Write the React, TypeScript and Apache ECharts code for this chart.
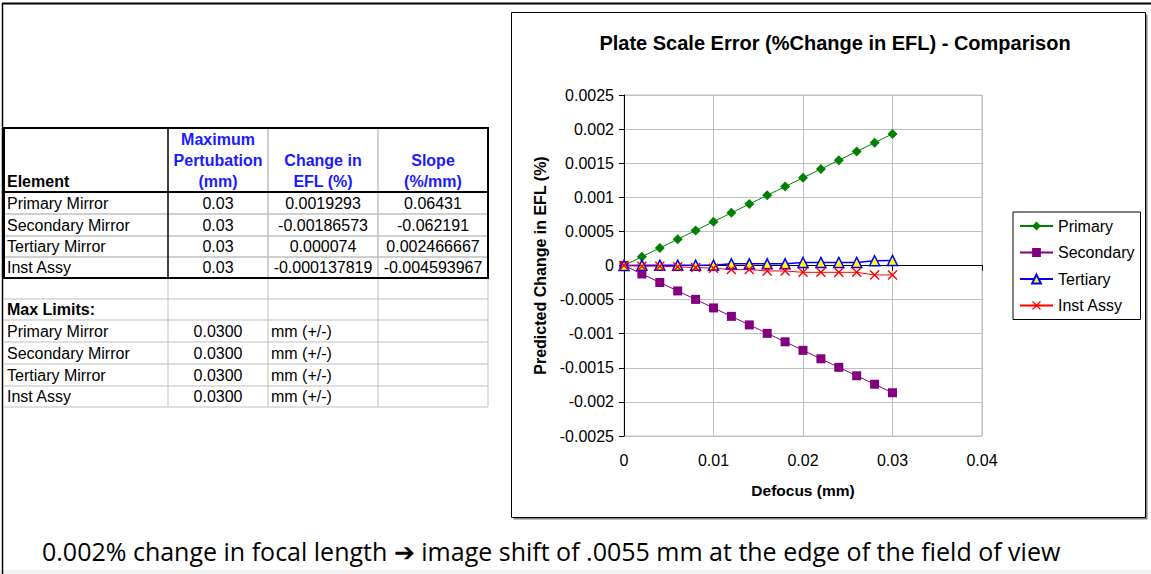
import React, { useEffect, useRef } from "react";
import * as echarts from "echarts";

// Defocus steps (mm)
const defocus = [0, 0.002, 0.004, 0.006, 0.008, 0.01, 0.012, 0.014, 0.016, 0.018, 0.02, 0.022, 0.024, 0.026, 0.028, 0.03];

// Predicted % change in EFL for each element
const primary = [0, 0.000129, 0.000257, 0.000386, 0.000514, 0.000643, 0.000772, 0.0009, 0.001029, 0.001157, 0.001286, 0.001415, 0.001543, 0.001672, 0.0018, 0.0019293];
const secondary = [0, -0.000124, -0.000249, -0.000373, -0.000497, -0.000622, -0.000746, -0.000871, -0.000995, -0.001119, -0.001244, -0.001368, -0.001493, -0.001617, -0.001741, -0.00186573];
const tertiary = [0, 0.000005, 0.000005, 0.000005, 0.000005, 0.000005, 0.000025, 0.000025, 0.000025, 0.000025, 0.000045, 0.000045, 0.000045, 0.000045, 0.00007, 0.000074];
const instAssy = [0, -0.00001, -0.00001, -0.00002, -0.00003, -0.00004, -0.00006, -0.00006, -0.00008, -0.00008, -0.0001, -0.0001, -0.0001, -0.0001, -0.000138, -0.000137819];

const seriesNames = ["Primary", "Secondary", "Tertiary", "Inst Assy"];

// Sensitivity table
const tableElements = ["Primary Mirror", "Secondary Mirror", "Tertiary Mirror", "Inst Assy"];
const maxPerturbation = ["0.03", "0.03", "0.03", "0.03"];
const changeInEfl = ["0.0019293", "-0.00186573", "0.000074", "-0.000137819"];
const slopes = ["0.06431", "-0.062191", "0.002466667", "-0.004593967"];
const limitValues = ["0.0300", "0.0300", "0.0300", "0.0300"];
const limitUnit = "mm (+/-)";

const FONT = "'Liberation Sans', Arial, sans-serif";
const CROSS = "path://M0,1 L1,0 L5,4 L9,0 L10,1 L6,5 L10,9 L9,10 L5,6 L1,10 L0,9 L4,5 Z";

function buildTable(): any[] {
  const cols = [4, 168, 268, 378, 488];
  const upperRows = [128, 192, 214, 236, 257, 278];
  const lowerRows = [278, 299, 320, 342, 364, 386, 407];
  const els: any[] = [];
  const line = (x1: number, y1: number, x2: number, y2: number, stroke: string, w: number) =>
    els.push({ type: "line", shape: { x1, y1, x2, y2 }, style: { stroke, lineWidth: w }, z: 1 });
  const txt = (text: string, x: number, y: number, align: string, opts: any = {}) =>
    els.push({
      type: "text",
      x,
      y,
      style: { text, fill: opts.fill || "#000", font: `${opts.bold ? "bold " : ""}16px ${FONT}`, align, verticalAlign: "middle" },
      z: 3,
    });

  // lower section grid (gray)
  for (let i = 1; i < lowerRows.length; i++) line(4, lowerRows[i], 488, lowerRows[i], "#bfbfbf", 1);
  for (let i = 1; i < cols.length; i++) line(cols[i], 278, cols[i], 407, "#bfbfbf", 1);

  // upper section inner lines
  for (let i = 2; i < upperRows.length - 1; i++) line(4, upperRows[i], 488, upperRows[i], "#bfbfbf", 1.5);
  line(268, 128, 268, 278, "#bfbfbf", 1.5);
  line(378, 128, 378, 278, "#bfbfbf", 1.5);
  line(168, 128, 168, 278, "#000", 1.5);
  line(4, 192, 488, 192, "#000", 2);
  // outer border
  els.push({ type: "rect", shape: { x: 4, y: 128, width: 484, height: 150 }, style: { fill: "none", stroke: "#000", lineWidth: 2 }, z: 2 });

  // header
  const blue = "#1a1aff";
  txt("Element", 7, 181, "left", { bold: true });
  txt("Maximum", 218, 139, "center", { bold: true, fill: blue });
  txt("Pertubation", 218, 160, "center", { bold: true, fill: blue });
  txt("(mm)", 218, 181, "center", { bold: true, fill: blue });
  txt("Change in", 323, 160, "center", { bold: true, fill: blue });
  txt("EFL (%)", 323, 181, "center", { bold: true, fill: blue });
  txt("Slope", 433, 160, "center", { bold: true, fill: blue });
  txt("(%/mm)", 433, 181, "center", { bold: true, fill: blue });

  tableElements.forEach((name, i) => {
    const y = (upperRows[i + 1] + upperRows[i + 2]) / 2;
    txt(name, 7, y, "left");
    txt(maxPerturbation[i], 218, y, "center");
    txt(changeInEfl[i], 323, y, "center");
    txt(slopes[i], 433, y, "center");
  });

  txt("Max Limits:", 7, (lowerRows[1] + lowerRows[2]) / 2, "left", { bold: true });
  tableElements.forEach((name, i) => {
    const y = (lowerRows[i + 2] + lowerRows[i + 3]) / 2;
    txt(name, 7, y, "left");
    txt(limitValues[i], 218, y, "center");
    txt(limitUnit, 271, y, "left");
  });
  return els;
}

export default function App() {
  const ref = useRef<HTMLDivElement>(null);

  useEffect(() => {
    if (!ref.current) return;
    const chart = echarts.init(ref.current, null, { renderer: "svg" });
    const pts = (vals: number[]) => defocus.map((x, i) => [x, vals[i]]);
    const axisText = { color: "#000", fontSize: 16, fontFamily: FONT };
    const grid = { left: 624, top: 95, width: 358, height: 341 };

    const graphics: any[] = [
      // page frame
      { type: "line", shape: { x1: 2, y1: 3.5, x2: 1151, y2: 3.5 }, style: { stroke: "#000", lineWidth: 2 }, z: 1 },
      { type: "line", shape: { x1: 2.5, y1: 3, x2: 2.5, y2: 574 }, style: { stroke: "#000", lineWidth: 1.5 }, z: 1 },
      { type: "rect", shape: { x: 0, y: 570, width: 1151, height: 4 }, style: { fill: "#f2f2f2" }, z: 0 },
      // chart area frame with shadow
      { type: "rect", shape: { x: 513.5, y: 14.5, width: 634, height: 505 }, style: { fill: "#808080" }, z: -20 },
      { type: "rect", shape: { x: 511.5, y: 12.5, width: 634, height: 505 }, style: { fill: "#fff", stroke: "#000", lineWidth: 1 }, z: -10 },
      ...buildTable(),
      {
        type: "text",
        x: 42,
        y: 551,
        style: {
          text: "0.002% change in focal length \u2794 image shift of .0055 mm at the edge of the field of view",
          fill: "#000",
          font: "25px 'Open Sans', sans-serif",
          verticalAlign: "middle",
        },
        z: 3,
      },
    ];

    chart.setOption({
      animation: false,
      backgroundColor: "#fff",
      title: {
        text: "Plate Scale Error (%Change in EFL) - Comparison",
        left: 830,
        top: 28,
        textAlign: "center",
        textStyle: { fontFamily: FONT, fontWeight: "bold", fontSize: 20, color: "#000" },
      },
      grid: { ...grid, show: true, borderColor: "#c0c0c0", borderWidth: 1, backgroundColor: "#fff" },
      legend: {
        orient: "vertical",
        left: 1013,
        top: 212,
        data: seriesNames,
        borderColor: "#000",
        borderWidth: 1,
        padding: [6, 6, 6, 6],
        itemGap: 10.5,
        itemWidth: 33,
        itemHeight: 11,
        backgroundColor: "#fff",
        textStyle: { color: "#000", fontSize: 16, fontFamily: FONT },
      },
      xAxis: [
        {
          type: "value",
          min: 0,
          max: 0.04,
          interval: 0.01,
          position: "bottom",
          axisLine: { onZero: true, lineStyle: { color: "#000", width: 1 } },
          axisTick: { show: true, length: 5, lineStyle: { color: "#000" } },
          axisLabel: { show: false },
          splitLine: { show: true, lineStyle: { color: "#c0c0c0", width: 1 } },
        },
        {
          type: "value",
          min: 0,
          max: 0.04,
          interval: 0.01,
          position: "bottom",
          axisLine: { show: false, onZero: false },
          axisTick: { show: false },
          splitLine: { show: false },
          axisLabel: { ...axisText, margin: 16 },
          name: "Defocus (mm)",
          nameLocation: "middle",
          nameGap: 46,
          nameTextStyle: { fontFamily: FONT, fontWeight: "bold", fontSize: 15.5, color: "#000" },
        },
      ],
      yAxis: {
        type: "value",
        min: -0.0025,
        max: 0.0025,
        interval: 0.0005,
        axisLine: { show: true, onZero: false, lineStyle: { color: "#000", width: 1 } },
        axisTick: { show: true, length: 5, lineStyle: { color: "#000" } },
        axisLabel: { ...axisText, margin: 10, formatter: (v: number) => String(+v.toFixed(4)) },
        splitLine: { show: true, lineStyle: { color: "#c0c0c0", width: 1 } },
        name: "Predicted Change in EFL (%)",
        nameLocation: "middle",
        nameGap: 76,
        nameTextStyle: { fontFamily: FONT, fontWeight: "bold", fontSize: 16, color: "#000" },
      },
      graphic: graphics,
      series: [
        {
          name: "Primary",
          type: "line",
          data: pts(primary),
          symbol: "diamond",
          symbolSize: 10,
          itemStyle: { color: "#008000" },
          lineStyle: { color: "#008000", width: 1 },
        },
        {
          name: "Secondary",
          type: "line",
          data: pts(secondary),
          symbol: "rect",
          symbolSize: 9,
          itemStyle: { color: "#800080" },
          lineStyle: { color: "#800080", width: 1 },
        },
        {
          name: "Tertiary",
          type: "line",
          data: pts(tertiary),
          symbol: "triangle",
          symbolSize: 10,
          itemStyle: { color: "#ffff00", borderColor: "#0000ff", borderWidth: 1.5 },
          lineStyle: { color: "#0000ff", width: 1.5 },
        },
        {
          name: "Inst Assy",
          type: "line",
          data: pts(instAssy),
          symbol: CROSS,
          symbolSize: 10,
          itemStyle: { color: "#ff0000" },
          lineStyle: { color: "#ff0000", width: 1 },
        },
      ],
    });
    return () => chart.dispose();
  }, []);

  return <div ref={ref} style={{ position: "fixed", left: 0, top: 0, width: 1151, height: 574 }} />;
}
